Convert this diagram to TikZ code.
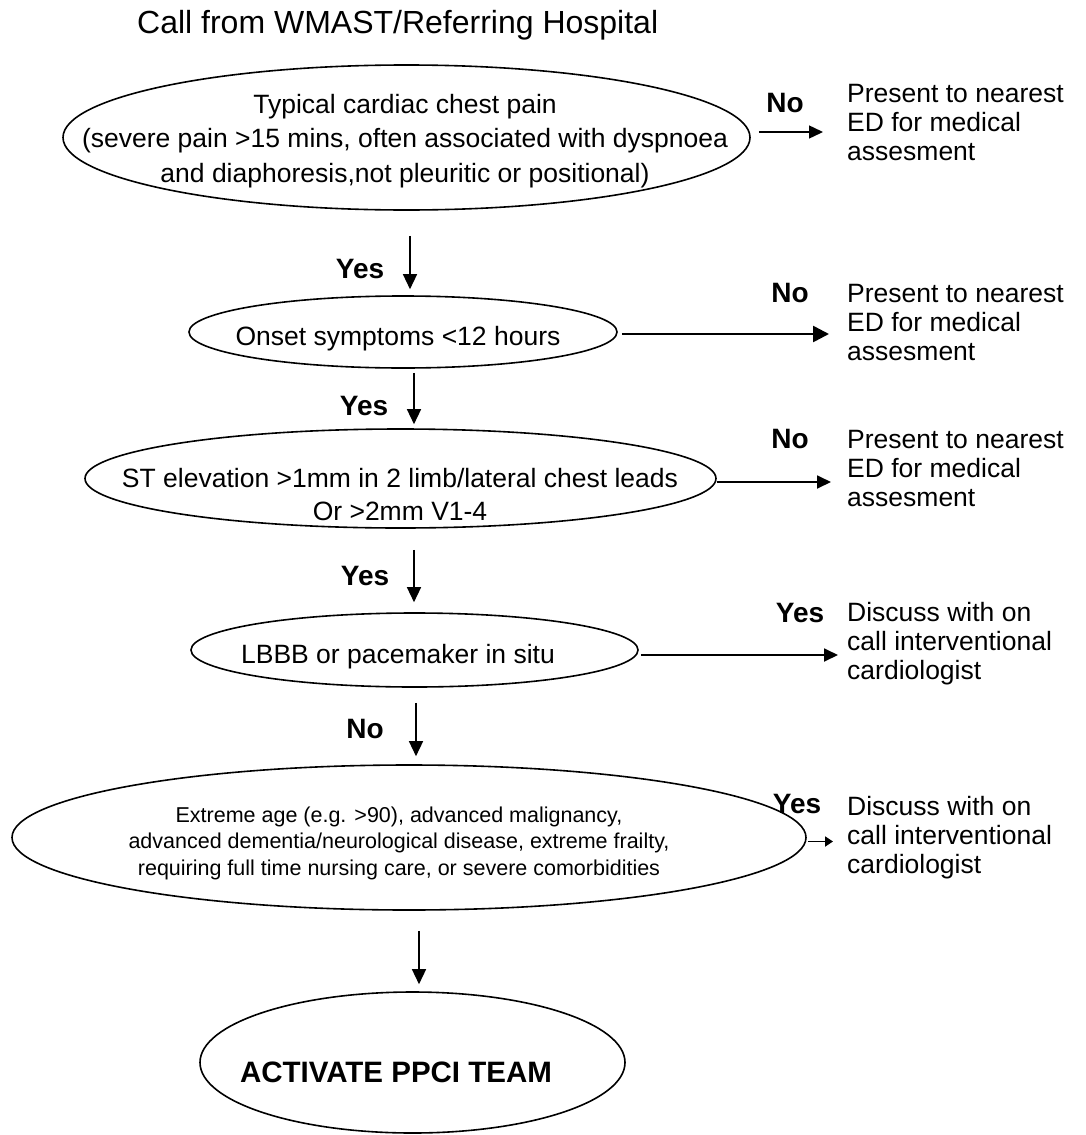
\documentclass[tikz,border=0pt]{standalone}
\usepackage{fontspec}
\setmainfont{Liberation Sans}
\usetikzlibrary{arrows.meta,shapes.geometric,calc}
\begin{document}
\begin{tikzpicture}[x=1pt,y=-1pt,
  ell/.style={draw, ellipse, line width=1.6pt, inner sep=0pt},
  arr/.style={line width=1.4pt, -{Triangle[length=15pt,width=14pt]}},
  lbl/.style={font=\fontsize{28}{32}\selectfont\bfseries, inner sep=0pt, anchor=base},
  side/.style={font=\fontsize{26.5}{29}\selectfont, align=left, inner sep=0pt, anchor=north west},
  body/.style={inner sep=0pt, align=center},
]
\useasboundingbox (0,0) rectangle (1085,1135);

% title
\node[inner sep=0pt, anchor=base west, font=\fontsize{32}{36}\selectfont] (title) at (137,33) {Call from WMAST/Referring Hospital};

% ellipses
\node[ell, minimum width=687pt, minimum height=145pt] (e1) at (406.5,137.5) {};
\node[ell, minimum width=428pt, minimum height=72pt] (e2) at (403,332) {};
\node[ell, minimum width=631pt, minimum height=99pt] (e3) at (400.5,478.5) {};
\node[ell, minimum width=447pt, minimum height=74pt] (e4) at (414.5,650) {};
\node[ell, minimum width=794pt, minimum height=145pt] (e5) at (409,837.5) {};
\node[ell, minimum width=425pt, minimum height=141pt] (e6) at (412.5,1062.5) {};

% ellipse texts
\node[body, anchor=north, font=\fontsize{26.5}{34.3}\selectfont] (t1) at (405,94) {Typical cardiac chest pain\\(severe pain >15 mins, often associated with dyspnoea\\and diaphoresis,not pleuritic or positional)};
\node[body, anchor=base, font=\fontsize{26.5}{30}\selectfont] (t2) at (398,345) {Onset symptoms <12 hours};
\node[body, anchor=north, font=\fontsize{26.5}{33}\selectfont] (t3) at (400,468) {ST elevation >1mm in 2 limb/lateral chest leads\\Or >2mm V1-4};
\node[body, anchor=base, font=\fontsize{26.5}{30}\selectfont] (t4) at (398,663) {LBBB or pacemaker in situ};
\node[body, anchor=north, font=\fontsize{21.5}{26.5}\selectfont] (t5) at (399,806.7) {Extreme age (e.g. >90), advanced malignancy,\\advanced dementia/neurological disease, extreme frailty,\\requiring full time nursing care, or severe comorbidities};
\node[body, anchor=base, font=\fontsize{29.5}{33}\selectfont\bfseries] (t6) at (396,1082) {ACTIVATE PPCI TEAM};

% side texts
\node[side] (r1) at (847,84) {Present to nearest\\ED for medical\\assesment};
\node[side] (r2) at (847,284) {Present to nearest\\ED for medical\\assesment};
\node[side] (r3) at (847,430) {Present to nearest\\ED for medical\\assesment};
\node[side] (r4) at (847,602) {Discuss with on\\call interventional\\cardiologist};
\node[side] (r5) at (847,796) {Discuss with on\\call interventional\\cardiologist};

% labels
\node[lbl] (n1) at (785,112) {No};
\node[lbl] (y1) at (360,278) {Yes};
\node[lbl] (n2) at (790,302) {No};
\node[lbl] (y2) at (364,415) {Yes};
\node[lbl] (n3) at (790,448) {No};
\node[lbl] (y3) at (365,585) {Yes};
\node[lbl] (y4) at (800,622) {Yes};
\node[lbl] (n4) at (365,738) {No};
\node[lbl] (y5) at (797,813) {Yes};

% connector start points
\coordinate (s1) at ($(e1.east)+(8,-5.5)$);
\coordinate (s2) at ($(e2.east)+(4,2)$);
\coordinate (s3) at ($(e3.east)+(0,3.5)$);
\coordinate (s4) at ($(e4.east)+(2,5)$);
\coordinate (s5) at ($(e5.east)+(1,4)$);
\coordinate (d1) at ($(e1.south)+(3.5,25)$);
\coordinate (d2) at ($(e2.south)+(11,4)$);
\coordinate (d3) at ($(e3.south)+(13.5,21)$);
\coordinate (d4) at ($(e4.south)+(1.5,15)$);
\coordinate (d5) at ($(e5.south)+(10,20)$);

% right arrows
\draw[arr, -{Triangle[length=14pt,width=13pt]}, shorten >=24pt] (s1) -- (s1 -| r1.west);
\draw[arr, line width=2.6pt, -{Triangle[length=16pt,width=16pt]}, shorten >=18pt] (s2) -- (s2 -| r2.west);
\draw[arr, line width=1.8pt, -{Triangle[length=14pt,width=13pt]}, shorten >=16pt] (s3) -- (s3 -| r3.west);
\draw[arr, line width=1.8pt, -{Triangle[length=14pt,width=13pt]}, shorten >=9pt] (s4) -- (s4 -| r4.west);
\draw[arr, line width=1.8pt, -{Triangle[length=8pt,width=10pt]}, shorten >=14pt] (s5) -- (s5 -| r5.west);

% down arrows
\draw[arr, shorten >=6pt] (d1) -- (d1 |- e2.north);
\draw[arr, shorten >=4pt] (d2) -- (d2 |- e3.north);
\draw[arr, shorten >=10pt] (d3) -- (d3 |- e4.north);
\draw[arr, shorten >=8pt] (d4) -- (d4 |- e5.north);
\draw[arr, shorten >=7pt] (d5) -- (d5 |- e6.north);
\end{tikzpicture}
\end{document}
